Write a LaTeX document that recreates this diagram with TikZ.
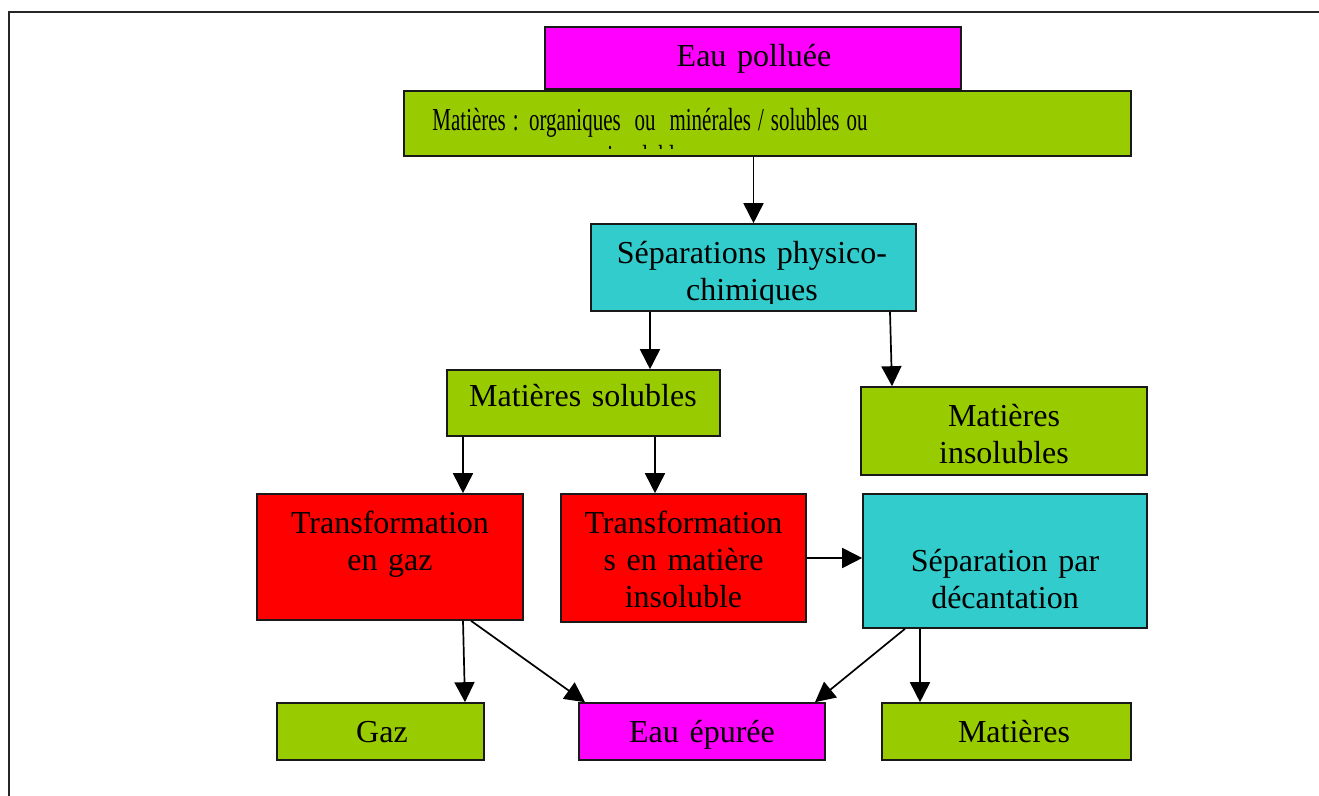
\documentclass[tikz,border=0pt]{standalone}
\usepackage{graphicx}
\usepackage{fontspec}
\setmainfont{Liberation Serif}
\usetikzlibrary{arrows.meta}
\definecolor{rose}{HTML}{FF00FF}
\definecolor{vert}{HTML}{99CC00}
\definecolor{turq}{HTML}{33CCCC}
\definecolor{rouge}{HTML}{FF0000}
\newcommand{\narrow}[1]{\scalebox{0.655}[1]{#1}}
\tikzset{
  box/.style={draw=black!90, line width=0.8pt, rectangle, inner sep=0pt},
  txt/.style={anchor=base, inner sep=0pt, text width=300pt, align=center,
    font=\fontsize{16pt}{18.5pt}\selectfont},
  arr/.style={draw=black, line width=0.85pt, -{Triangle[length=10pt,width=10pt]}},
}
\begin{document}
\begin{tikzpicture}[x=0.5pt, y=-0.5pt]
\useasboundingbox (0,0) rectangle (1319,796);
% page frame (top and left edges)
\draw[black!85, line width=1pt] (1319,12) -- (9,12) -- (9,796);

% boxes
\node[box, fill=rose, minimum width=208pt, minimum height=31pt] (pol) at (753,58) {};
\node[box, fill=vert, minimum width=363.5pt, minimum height=32.5pt] (mat) at (767.5,123.5) {};
\node[box, fill=turq, minimum width=162.5pt, minimum height=43.5pt] (sep) at (753.5,267.5) {};
\node[box, fill=vert, minimum width=136.5pt, minimum height=33pt] (sol) at (583.5,403) {};
\node[box, fill=vert, minimum width=143pt, minimum height=44pt] (ins) at (1004,431) {};
\node[box, fill=rouge, minimum width=133pt, minimum height=63pt] (tg) at (390,557) {};
\node[box, fill=rouge, minimum width=122.5pt, minimum height=64pt] (tm) at (683.5,558) {};
\node[box, fill=turq, minimum width=142pt, minimum height=67pt] (dec) at (1005,561) {};
\node[box, fill=vert, minimum width=103.5pt, minimum height=28.5pt] (gaz) at (380.5,731.5) {};
\node[box, fill=rose, minimum width=123pt, minimum height=28.5pt] (epu) at (702,731.5) {};
\node[box, fill=vert, minimum width=124.5pt, minimum height=28.5pt] (mtb) at (1006.5,731.5) {};

% labels
\node[txt] (tpol) at (754,67) {Eau polluée};
\begin{scope}
  \clip (mat.north west) rectangle ([yshift=4pt]mat.south east);
  \node[txt] (tmat) at (650,131) {\narrow{Matières : organiques\ \ ou\ \ minérales / solubles ou}\\\narrow{insolubles}};
\end{scope}
\begin{scope}
  \clip (sep.north west) rectangle ([yshift=4pt]sep.south east);
  \node[txt] (tsep) at (752,264) {Séparations physico-\\chimiques};
\end{scope}
\node[txt] (tsol) at (583,407) {Matières solubles};
\node[txt] (tins) at (1004,427) {Matières\\insolubles};
\node[txt] (ttg) at (390,534) {Transformation\\en gaz};
\node[txt] (ttm) at (683.5,534) {Transformation\\s en matière\\insoluble};
\node[txt] (tdec) at (1005,572) {Séparation par\\décantation};
\node[txt] (tgaz) at (382,743) {Gaz};
\node[txt] (tepu) at (702,743) {Eau épurée};
\node[txt] (tmtb) at (1014,743) {Matières};

% connector end points on the box borders
\coordinate (c2) at ([xshift=33.25pt]sol.north);
\coordinate (c3a) at ([xshift=68.25pt]sep.south);
\coordinate (c3b) at ([xshift=-56pt]ins.north);
\coordinate (c4) at ([xshift=36.5pt]tg.north);
\coordinate (c5) at ([xshift=-14.25pt]tm.north);
\coordinate (c7a) at ([xshift=36.5pt]tg.south);
\coordinate (c7b) at ([xshift=42.25pt]gaz.north);
\coordinate (c8a) at ([xshift=40.5pt]tg.south);
\coordinate (c8b) at ([xshift=-58.5pt]epu.north);
\coordinate (c9a) at ([xshift=-50pt]dec.south);
\coordinate (c9b) at ([xshift=56.5pt]epu.north);
\coordinate (c10) at ([xshift=-43.25pt]mtb.north);

% connectors
\draw[arr] (mat.south -| sep.north) -- (sep.north);
\draw[arr] (sep.south -| c2) -- (c2);
\draw[arr] (c3a) -- (c3b);
\draw[arr] (sol.south -| c4) -- (c4);
\draw[arr] (sol.south -| c5) -- (c5);
\draw[arr] (tm.east) -- (tm.east -| dec.west);
\draw[arr] (c7a) -- (c7b);
\draw[arr] (c8a) -- (c8b);
\draw[arr] (c9a) -- (c9b);
\draw[arr] (dec.south -| c10) -- (c10);
\end{tikzpicture}
\end{document}
